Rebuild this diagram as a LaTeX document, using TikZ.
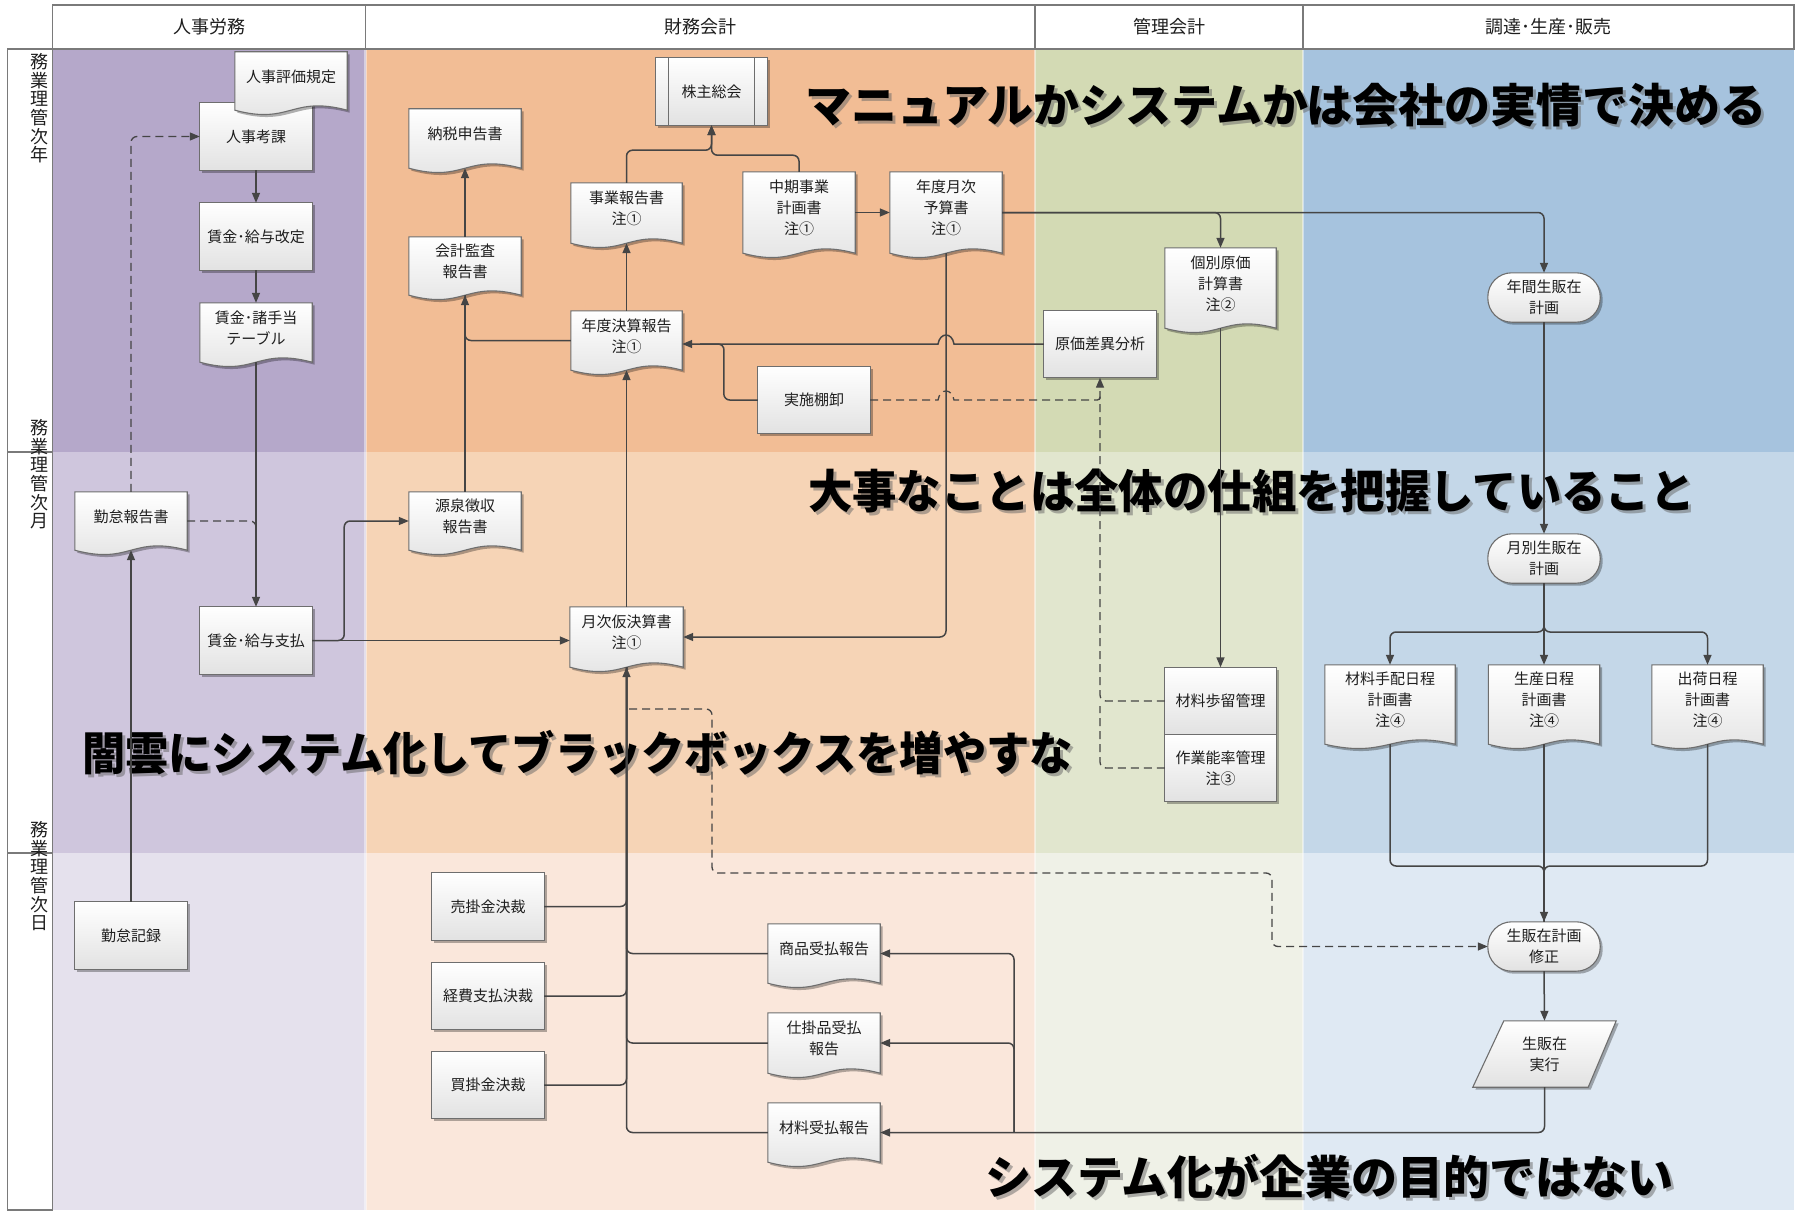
\documentclass[tikz,border=0pt]{standalone}
\usepackage{fontspec}
\setmainfont{Noto Sans CJK JP}
\usetikzlibrary{arrows.meta,shadows,calc}
\definecolor{linec}{HTML}{454545}
\definecolor{bordc}{HTML}{6E6E6E}
\definecolor{shadebot}{HTML}{E2E2E2}
\definecolor{txtc}{HTML}{1E1E1E}
\definecolor{hdrc}{HTML}{7A7A7A}
\definecolor{puA}{HTML}{B5A8CA}\definecolor{puB}{HTML}{CFC6DD}\definecolor{puC}{HTML}{E5E1ED}
\definecolor{orA}{HTML}{F2BD95}\definecolor{orB}{HTML}{F6D4B6}\definecolor{orC}{HTML}{FAE7DB}
\definecolor{grA}{HTML}{D3DAB4}\definecolor{grB}{HTML}{E1E6CE}\definecolor{grC}{HTML}{EFF1E7}
\definecolor{blA}{HTML}{A6C3DE}\definecolor{blB}{HTML}{C4D7E8}\definecolor{blC}{HTML}{DFE9F3}
\newcommand\ndfont{\fontsize{15pt}{21pt}\selectfont}
\newcommand\bigfont{\fontsize{46pt}{46pt}\selectfont\bfseries}
\newcommand\boxshape[1]{\path[shp] (#1.north west) rectangle (#1.south east);}
\newcommand\docshape[1]{\path[shp] (#1.north west) -- (#1.north east) -- (#1.south east) .. controls ($(#1.south)+(0,-15)$) and ($(#1.south)+(0,15)$) .. (#1.south west) -- cycle;}
\newcommand\termshape[1]{\path[shp, rounded corners=24pt] (#1.north west) rectangle (#1.south east);}
\pgfdeclarelayer{bandl}
\pgfdeclarelayer{shapel}
\pgfsetlayers{bandl,shapel,main}
\tikzset{
  nd/.style={inner sep=0pt, align=center, font=\ndfont, text=txtc},
  bx/.style={nd, minimum width=112pt, minimum height=67pt},
  dc/.style={nd, minimum width=112pt, minimum height=59pt, text depth=10pt},
  tm/.style={nd, minimum width=112pt, minimum height=49pt},
  shp/.style={draw=bordc, line width=1.1pt, top color=white, bottom color=shadebot,
    drop shadow={shadow xshift=2.5pt, shadow yshift=-2.5pt, opacity=0.3, fill=black}},
  conn/.style={draw=linec, line width=1.5pt, rounded corners=6pt},
  arr/.style={-{Triangle[length=10pt,width=8pt]}},
  dsh/.style={conn, dash pattern=on 8pt off 5pt, line width=1.3pt},
  hdr/.style={draw=hdrc, line width=1.2pt},
  lbl/.style={inner sep=0pt, align=center, font=\fontsize{18pt}{18.7pt}\selectfont, text=txtc},
  bigt/.style={inner sep=0pt, anchor=west, font=\bigfont, text=black, transform shape},
  bigs/.style={bigt, text=black!60, opacity=0.5},
}
\begin{document}
\begin{tikzpicture}[x=1pt,y=-1pt]
\useasboundingbox (0,0) rectangle (1804,1212);
\begin{pgfonlayer}{bandl}
\fill[white] (0,0) rectangle (1804,1212);
% bands
\fill[puA] (52.5,49) rectangle (365.5,452);
\fill[puB] (52.5,452) rectangle (365.5,853);
\fill[puC] (52.5,853) rectangle (365.5,1210);
\fill[orA] (365.5,49) rectangle (1035,452);
\fill[orB] (365.5,452) rectangle (1035,853);
\fill[orC] (365.5,853) rectangle (1035,1210);
\fill[grA] (1035,49) rectangle (1303,452);
\fill[grB] (1035,452) rectangle (1303,853);
\fill[grC] (1035,853) rectangle (1303,1210);
\fill[blA] (1303,49) rectangle (1794,452);
\fill[blB] (1303,452) rectangle (1794,853);
\fill[blC] (1303,853) rectangle (1794,1210);
\foreach \xx in {365.5,1035,1303}{\draw[white, opacity=0.45, line width=2.5pt] (\xx,49) -- (\xx,1210);}
% header
\draw[hdr, fill=white] (52.5,5) rectangle (365.5,49);
\draw[hdr, fill=white] (365.5,5) rectangle (1035,49);
\draw[hdr, fill=white] (1035,5) rectangle (1303,49);
\draw[hdr, fill=white] (1303,5) rectangle (1794,49);
\node[nd, font=\fontsize{18pt}{18pt}\selectfont] (h1) at (209,27) {人事労務};
\node[nd, font=\fontsize{18pt}{18pt}\selectfont] (h2) at (700,27) {財務会計};
\node[nd, font=\fontsize{18pt}{18pt}\selectfont] (h3) at (1169,27) {管理会計};
\node[nd, font=\fontsize{18pt}{18pt}\selectfont] (h4) at (1548.5,27) {調達･生産･販売};
% row label column
\draw[hdr, fill=white] (7.7,49) rectangle (52.5,1210);
\draw[hdr] (7.7,452) -- (52.5,452);
\draw[hdr] (7.7,853) -- (52.5,853);
\node[lbl, anchor=north] (r1) at (39.4,53) {務\\業\\理\\管\\次\\年};
\node[lbl, anchor=north] (r2) at (39.4,419) {務\\業\\理\\管\\次\\月};
\node[lbl, anchor=north] (r3) at (39.4,821) {務\\業\\理\\管\\次\\日};
% big messages
\node[bigs, xscale=1.0] (t1s) at (808,108) {マニュアルかシステムかは会社の実情で決める};
\node[bigt, xscale=1.0] (t1) at (805,105) {マニュアルかシステムかは会社の実情で決める};
\node[bigs, xscale=0.965] (t2s) at (811,494) {大事なことは全体の仕組を把握していること};
\node[bigt, xscale=0.965] (t2) at (808,491) {大事なことは全体の仕組を把握していること};
\node[bigs, xscale=0.94] (t3s) at (85,756) {闇雲にシステム化してブラックボックスを増やすな};
\node[bigt, xscale=0.94] (t3) at (82,753) {闇雲にシステム化してブラックボックスを増やすな};
\node[bigs] (t4s) at (988,1180) {システム化が企業の目的ではない};
\node[bigt] (t4) at (985,1177) {システム化が企業の目的ではない};
\end{pgfonlayer}

% nodes
\node[bx] (kouka) at (256,136.5) {人事考課};
\node[bx] (kaitei) at (256,236.5) {賃金･給与改定};
\node[dc, minimum height=58pt] (hyouka) at (291,81) {人事評価規定};
\node[dc] (teate) at (256,332.5) {賃金･諸手当\\テーブル};
\node[dc, minimum height=58pt] (kintai) at (131,521) {勤怠報告書};
\node[bx] (shiharai) at (256,640.5) {賃金･給与支払};
\node[bx] (kinmu) at (131,935.5) {勤怠記録};
\node[dc] (nouzei) at (465,138.5) {納税申告書};
\node[dc, minimum height=58pt] (kansa) at (465,266) {会計監査\\報告書};
\node[dc, minimum height=58pt] (gensen) at (465,521) {源泉徴収\\報告書};
\node[bx, minimum width=111pt] (kabu) at (711.5,91.5) {株主総会};
\node[dc, minimum height=60pt, minimum width=111pt] (jigyou) at (626.5,213) {事業報告書\\注①};
\node[dc, minimum height=81pt] (chuuki) at (799,212.5) {中期事業\\計画書\\注①};
\node[dc, minimum height=81pt] (yosan) at (946,212.5) {年度月次\\予算書\\注①};
\node[dc, minimum width=111pt] (kessan) at (626.5,340.5) {年度決算報告\\注①};
\node[dc, minimum height=60pt, minimum width=113pt] (getsuji) at (626.5,637) {月次仮決算書\\注①};
\node[bx] (tana) at (814,400) {実施棚卸};
\node[bx] (gensa) at (1100,344) {原価差異分析};
\node[dc, minimum height=80pt, minimum width=111pt] (kobetsu) at (1220.5,288) {個別原価\\計算書\\注②};
\node[bx, minimum width=111pt] (budomari) at (1220.5,701) {材料歩留管理};
\node[bx, minimum width=111pt] (nouritsu) at (1220.5,768) {作業能率管理\\注③};
\node[tm] (nenkan) at (1544,297.5) {年間生販在\\計画};
\node[tm] (tsuki) at (1544,558.5) {月別生販在\\計画};
\node[dc, minimum height=79pt, minimum width=130pt] (zairyo) at (1390,704.5) {材料手配日程\\計画書\\注④};
\node[dc, minimum height=79pt, minimum width=111pt] (seisan) at (1544,704.5) {生産日程\\計画書\\注④};
\node[dc, minimum height=79pt, minimum width=111pt] (shukka) at (1707.5,704.5) {出荷日程\\計画書\\注④};
\node[tm] (shusei) at (1544,946.5) {生販在計画\\修正};
\node[nd, minimum width=143pt, minimum height=66pt] (jikkou) at (1544.5,1054) {生販在\\実行};
\node[bx] (urikake) at (488,906.5) {売掛金決裁};
\node[bx] (keihi) at (488,996) {経費支払決裁};
\node[bx] (kaikake) at (488,1085) {買掛金決裁};
\node[dc] (shouhin) at (824,953.5) {商品受払報告};
\node[dc, minimum height=60pt] (shikake) at (824,1043) {仕掛品受払\\報告};
\node[dc] (zuke) at (824,1132.5) {材料受払報告};
\coordinate (split) at (1544,632);
\coordinate (merge) at (1544,866);
\coordinate (br) at (1014,1132.5);
\coordinate (dstart) at (629,709);

% shapes
\begin{pgfonlayer}{shapel}
\boxshape{kouka}\boxshape{kaitei}\docshape{hyouka}\docshape{teate}
\docshape{kintai}\boxshape{shiharai}\boxshape{kinmu}
\docshape{nouzei}\docshape{kansa}\docshape{gensen}
\boxshape{kabu}
\draw[draw=bordc, line width=1.1pt] ([xshift=13pt]kabu.north west) -- ([xshift=13pt]kabu.south west)
  ([xshift=-13pt]kabu.north east) -- ([xshift=-13pt]kabu.south east);
\docshape{jigyou}\docshape{chuuki}\docshape{yosan}\docshape{kessan}\docshape{getsuji}
\boxshape{tana}\boxshape{gensa}\docshape{kobetsu}\boxshape{budomari}\boxshape{nouritsu}
\termshape{nenkan}\termshape{tsuki}\termshape{shusei}
\docshape{zairyo}\docshape{seisan}\docshape{shukka}
\path[shp] ([xshift=31pt]jikkou.north west) -- (jikkou.north east) -- ([xshift=-28pt]jikkou.south east) -- (jikkou.south west) -- cycle;
\boxshape{urikake}\boxshape{keihi}\boxshape{kaikake}
\docshape{shouhin}\docshape{shikake}\docshape{zuke}
\end{pgfonlayer}

% connectors: personnel
\draw[conn, arr] (kouka.south) -- (kaitei.north);
\draw[conn, arr] (kaitei.south) -- (teate.north);
\draw[conn, arr] (teate.south) -- (shiharai.north);
\draw[dsh, arr] (kintai.north) |- (kouka.west);
\draw[dsh] (kintai.east) -- (kintai.east -| teate.south) -- ++(0,12);
\draw[conn, arr] (kinmu.north) -- (kintai.south);
\draw[conn, arr] (shiharai.east) -- ++(32,0) |- (gensen.west);
\draw[conn, arr] (shiharai.east) -- (shiharai.east -| getsuji.west);
% finance
\draw[conn, arr] (gensen.north) -- (kansa.south);
\draw[conn, arr] (kansa.north) -- (nouzei.south);
\draw[conn] (kessan.west) -| (kansa.south);
\draw[conn, arr] (getsuji.north) -- (kessan.south);
\draw[conn, arr] (kessan.north) -- (jigyou.south);
\draw[conn, arr] (jigyou.north) |- ([yshift=-25pt]kabu.south) -- (kabu.south);
\draw[conn, arr] (chuuki.north) |- ([yshift=-30pt]kabu.south) -- (kabu.south);
\draw[conn, arr] (chuuki.east) -- (yosan.west);
\draw[conn, arr] (yosan.east) -| (kobetsu.north);
\draw[conn, arr] (yosan.east) -| (nenkan.north);
\draw[conn, arr] (yosan.south) |- (getsuji.east);
\draw[conn, sharp corners, arr] (gensa.west) -- (954,344) .. controls (952,332) and (940,332) .. (938,344) -- (kessan.east |- gensa.west);
\draw[conn] (tana.west) -- ++(-34,0) -- (724,344) -- (700,344);
\draw[dsh, sharp corners] (tana.east) -- (938,400) .. controls (940,388) and (952,388) .. (954,400) -- (1094,400) .. controls (1100,400) .. (1100,394);
\draw[dsh, arr] (budomari.west) -| (gensa.south);
\draw[dsh] (nouritsu.west) -- (1100,768) -- (1100,706);
\draw[conn, arr] (kobetsu.south) -- (budomari.north);
% production
\draw[conn, arr] (nenkan.south) -- (tsuki.north);
\draw[conn, arr] (tsuki.south) -- (split) -| (zairyo.north);
\draw[conn, arr] (tsuki.south) -- (seisan.north);
\draw[conn, arr] (tsuki.south) -- (split) -| (shukka.north);
\draw[conn] (zairyo.south) |- (merge) -- (shusei.north);
\draw[conn] (shukka.south) |- (merge) -- (shusei.north);
\draw[conn, arr] (seisan.south) -- (shusei.north);
\draw[conn, arr] (shusei.south) -- (jikkou.north);
\draw[conn, arr] (jikkou.south) |- (zuke.east);
\draw[conn, arr] (br) |- (shikake.east);
\draw[conn, arr] (br) |- (shouhin.east);
% daily
\draw[conn, arr] (zuke.west) -| (getsuji.south);
\draw[conn] (shikake.west) -| (getsuji.south);
\draw[conn] (shouhin.west) -| (getsuji.south);
\draw[conn] (urikake.east) -| (getsuji.south);
\draw[conn] (keihi.east) -| (getsuji.south);
\draw[conn] (kaikake.east) -| (getsuji.south);
\draw[dsh, arr] (dstart) -- (712,709) -- (712,873) -- (1272,873) |- (shusei.west);
\end{tikzpicture}
\end{document}
